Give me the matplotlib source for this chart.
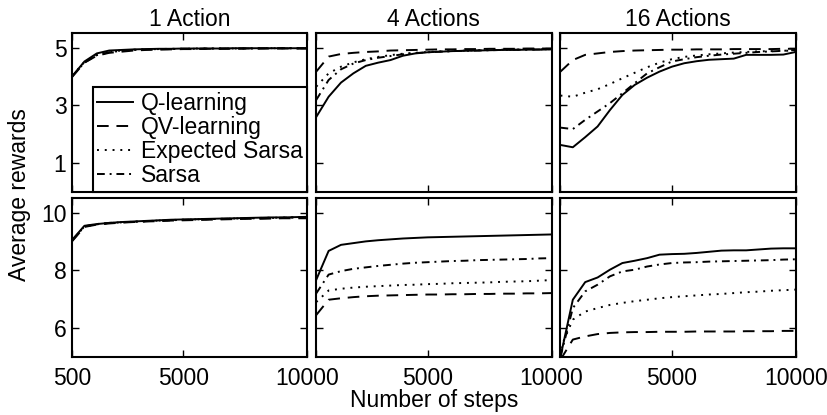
import matplotlib
matplotlib.use('Agg')
import matplotlib.pyplot as plt

plt.rcParams['font.family'] = ['Liberation Sans', 'DejaVu Sans']
plt.rcParams['font.size'] = 16.5

# training steps
steps = [500, 1000, 1500, 2000, 2500, 3000, 3500, 4000, 4500, 5000,
         5500, 6000, 6500, 7000, 7500, 8000, 8500, 9000, 9500, 10000]

titles = ['1 Action', '4 Actions', '16 Actions']
methods = ['Q-learning', 'QV-learning', 'Expected Sarsa', 'Sarsa']

# top row, 1 action
q_top_1 = [4.0, 4.52, 4.8, 4.9, 4.92, 4.94, 4.95, 4.96, 4.96, 4.97, 4.97, 4.97, 4.97, 4.98, 4.98, 4.98, 4.98, 4.98, 4.98, 4.98]
qv_top_1 = [3.98, 4.48, 4.72, 4.82, 4.86, 4.9, 4.92, 4.93, 4.94, 4.95, 4.95, 4.96, 4.96, 4.96, 4.97, 4.97, 4.97, 4.97, 4.97, 4.97]
es_top_1 = [4.03, 4.5, 4.75, 4.86, 4.9, 4.93, 4.94, 4.95, 4.96, 4.96, 4.97, 4.97, 4.97, 4.97, 4.97, 4.98, 4.98, 4.98, 4.98, 4.98]
sa_top_1 = [4.01, 4.48, 4.74, 4.84, 4.89, 4.92, 4.94, 4.95, 4.95, 4.96, 4.96, 4.97, 4.97, 4.97, 4.97, 4.97, 4.98, 4.98, 4.98, 4.98]

# top row, 4 actions
q_top_4 = [2.6, 3.3, 3.79, 4.11, 4.37, 4.48, 4.57, 4.72, 4.8, 4.84, 4.86, 4.88, 4.89, 4.9, 4.91, 4.92, 4.92, 4.93, 4.93, 4.94]
qv_top_4 = [4.17, 4.69, 4.78, 4.82, 4.85, 4.87, 4.9, 4.91, 4.92, 4.93, 4.94, 4.94, 4.95, 4.95, 4.96, 4.96, 4.96, 4.97, 4.97, 4.97]
es_top_4 = [3.65, 4.11, 4.34, 4.49, 4.6, 4.68, 4.74, 4.79, 4.82, 4.85, 4.87, 4.88, 4.9, 4.91, 4.92, 4.93, 4.93, 4.94, 4.94, 4.95]
sa_top_4 = [3.19, 3.88, 4.25, 4.45, 4.57, 4.65, 4.71, 4.77, 4.81, 4.84, 4.86, 4.88, 4.89, 4.9, 4.91, 4.92, 4.93, 4.93, 4.94, 4.95]

# top row, 16 actions
q_top_16 = [1.63, 1.55, 1.9, 2.27, 2.84, 3.36, 3.71, 3.96, 4.17, 4.34, 4.46, 4.53, 4.58, 4.6, 4.62, 4.75, 4.75, 4.75, 4.76, 4.85]
qv_top_16 = [4.17, 4.57, 4.75, 4.8, 4.85, 4.88, 4.9, 4.91, 4.92, 4.93, 4.93, 4.94, 4.94, 4.94, 4.95, 4.95, 4.95, 4.95, 4.96, 4.96]
es_top_16 = [3.34, 3.3, 3.44, 3.56, 3.74, 3.94, 4.13, 4.32, 4.48, 4.6, 4.68, 4.73, 4.77, 4.8, 4.83, 4.85, 4.87, 4.88, 4.89, 4.9]
sa_top_16 = [2.23, 2.18, 2.5, 2.79, 3.08, 3.42, 3.77, 4.11, 4.32, 4.52, 4.6, 4.67, 4.72, 4.76, 4.79, 4.82, 4.85, 4.87, 4.89, 4.92]

# bottom row, 1 action
q_bot_1 = [9.05, 9.54, 9.6, 9.64, 9.67, 9.69, 9.71, 9.73, 9.75, 9.76, 9.77, 9.78, 9.79, 9.8, 9.81, 9.82, 9.83, 9.83, 9.84, 9.85]
qv_bot_1 = [9.0, 9.5, 9.58, 9.62, 9.65, 9.67, 9.69, 9.7, 9.72, 9.73, 9.74, 9.75, 9.76, 9.77, 9.78, 9.78, 9.79, 9.8, 9.8, 9.8]
es_bot_1 = [9.03, 9.52, 9.59, 9.63, 9.66, 9.68, 9.7, 9.72, 9.74, 9.75, 9.76, 9.77, 9.78, 9.79, 9.8, 9.81, 9.82, 9.82, 9.83, 9.84]
sa_bot_1 = [9.02, 9.52, 9.6, 9.64, 9.66, 9.68, 9.7, 9.72, 9.73, 9.75, 9.76, 9.77, 9.78, 9.79, 9.8, 9.8, 9.81, 9.82, 9.83, 9.84]

# bottom row, 4 actions
q_bot_4 = [7.67, 8.67, 8.88, 8.94, 9.0, 9.04, 9.07, 9.1, 9.12, 9.14, 9.15, 9.16, 9.17, 9.18, 9.19, 9.2, 9.21, 9.22, 9.23, 9.24]
qv_bot_4 = [6.45, 6.98, 7.03, 7.07, 7.1, 7.12, 7.13, 7.14, 7.15, 7.16, 7.16, 7.17, 7.17, 7.18, 7.18, 7.19, 7.19, 7.2, 7.2, 7.21]
es_bot_4 = [6.9, 7.3, 7.36, 7.4, 7.43, 7.45, 7.47, 7.49, 7.5, 7.52, 7.53, 7.55, 7.56, 7.57, 7.58, 7.6, 7.61, 7.62, 7.64, 7.66]
sa_bot_4 = [7.2, 7.85, 7.97, 8.05, 8.1, 8.15, 8.19, 8.23, 8.26, 8.28, 8.3, 8.32, 8.33, 8.35, 8.36, 8.37, 8.38, 8.39, 8.41, 8.42]

# bottom row, 16 actions
q_bot_16 = [5.0, 6.98, 7.59, 7.75, 8.02, 8.25, 8.33, 8.42, 8.54, 8.56, 8.57, 8.6, 8.64, 8.68, 8.69, 8.69, 8.72, 8.75, 8.76, 8.76]
qv_bot_16 = [4.9, 5.6, 5.71, 5.79, 5.83, 5.85, 5.86, 5.86, 5.87, 5.87, 5.87, 5.88, 5.88, 5.88, 5.88, 5.89, 5.89, 5.89, 5.9, 5.9]
es_bot_16 = [5.3, 6.29, 6.57, 6.69, 6.8, 6.87, 6.93, 6.98, 7.03, 7.07, 7.1, 7.13, 7.16, 7.18, 7.21, 7.24, 7.26, 7.29, 7.31, 7.33]
sa_bot_16 = [5.0, 6.69, 7.27, 7.5, 7.79, 7.96, 8.02, 8.13, 8.2, 8.25, 8.27, 8.28, 8.3, 8.31, 8.32, 8.33, 8.34, 8.35, 8.37, 8.38]

top = [[q_top_1, qv_top_1, es_top_1, sa_top_1],
       [q_top_4, qv_top_4, es_top_4, sa_top_4],
       [q_top_16, qv_top_16, es_top_16, sa_top_16]]
bot = [[q_bot_1, qv_bot_1, es_bot_1, sa_bot_1],
       [q_bot_4, qv_bot_4, es_bot_4, sa_bot_4],
       [q_bot_16, qv_bot_16, es_bot_16, sa_bot_16]]

styles = ['-', (0, (6, 4)), (0, (1, 3)), (0, (4, 2.5, 1, 2.5))]

fig, axes = plt.subplots(2, 3, figsize=(8.28, 4.15), dpi=100)
fig.subplots_adjust(left=0.087, right=0.961, bottom=0.14, top=0.92,
                    wspace=0.038, hspace=0.038)

for r, rows in enumerate([top, bot]):
    for c in range(3):
        ax = axes[r, c]
        for k in range(4):
            ax.plot(steps, rows[c][k], color='black', lw=1.4,
                    linestyle=styles[k], label=methods[k])
        ax.set_xlim(500, 10000)
        if r == 0:
            ax.set_ylim(0, 5.5)
            ax.set_yticks([1, 3, 5])
            ax.set_title(titles[c], fontsize=16.5, pad=5)
        else:
            ax.set_ylim(5, 10.5)
            ax.set_yticks([6, 8, 10])
        ax.set_xticks([500, 5000, 10000])
        ax.tick_params(direction='in', top=True, right=True, length=5,
                       width=1, labelsize=16.5)
        ax.tick_params(axis='x', pad=7)
        ax.tick_params(axis='y', pad=4)
        for s in ax.spines.values():
            s.set_linewidth(1.5)
        if r == 0:
            ax.set_xticklabels([])
        elif c == 0:
            ax.set_xticklabels(['500', '5000', '10000'])
        else:
            ax.set_xticklabels(['', '5000', '10000'])
        if c > 0:
            ax.set_yticklabels([])

leg = axes[0, 0].legend(loc='lower right', borderaxespad=0, fontsize=16.5,
                        handlelength=1.55, handletextpad=0.35, labelspacing=0.05,
                        borderpad=0.2, fancybox=False, framealpha=1)
leg.get_frame().set_edgecolor('black')
leg.get_frame().set_linewidth(1.5)

fig.supylabel('Average rewards', x=0.01, y=0.53, fontsize=16.5)
fig.text(0.524, 0.02, 'Number of steps', ha='center', fontsize=16.5)

plt.savefig('out.png', dpi=100)
